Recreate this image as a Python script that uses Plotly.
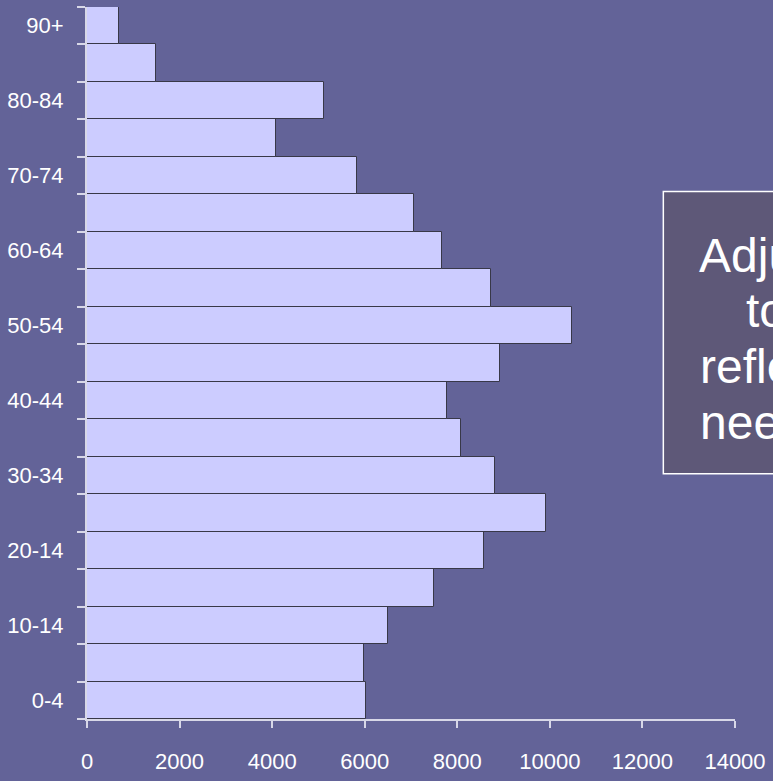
import plotly.graph_objects as go

# ---------------- data ----------------
age_groups = ["0-4", "5-9", "10-14", "15-19", "20-24", "25-29", "30-34", "35-39",
              "40-44", "45-49", "50-54", "55-59", "60-64", "65-69", "70-74",
              "75-79", "80-84", "85-89", "90+"]
population = [6020, 5990, 6500, 7500, 8570, 9920, 8810, 8090, 7770, 8930,
              10470, 8730, 7660, 7060, 5840, 4090, 5120, 1480, 690]
# labels shown on every other category (as in the original, incl. "20-14")
y_tick_labels = ["0-4", "10-14", "20-14", "30-34", "40-44", "50-54",
                 "60-64", "70-74", "80-84", "90+"]
x_tick_values = [0, 2000, 4000, 6000, 8000, 10000, 12000, 14000]
note_lines = ["Adjust", "to", "reflect", "needs"]

# ---------------- style ----------------
BG = "#636398"
BAR = "#CCCCFF"
BAR_EDGE = "#383848"
AXIS = "#D8D8E8"
BOX_FILL = "#5E5878"
FONT = "Liberation Sans, Arial, sans-serif"

W, H = 773, 781
ML, MR, MT, MB = 87, 35, 7, 45
PW, PH = W - ML - MR, H - MT - MB

def px_x(p):
    return (p - ML) / PW

def px_y(p):
    return (H - MB - p) / PH

n = len(age_groups)
ypos = list(range(n))

fig = go.Figure(go.Bar(
    x=population,
    y=ypos,
    orientation="h",
    width=1,
    customdata=age_groups,
    hovertemplate="%{customdata}: %{x}<extra></extra>",
    marker=dict(color=BAR, line=dict(color=BAR_EDGE, width=1)),
))

fig.update_layout(
    width=W, height=H,
    margin=dict(l=ML, r=MR, t=MT, b=MB, pad=0),
    paper_bgcolor=BG, plot_bgcolor=BG,
    showlegend=False,
    font=dict(family=FONT, color="white", size=22),
    bargap=0,
)

fig.update_xaxes(
    range=[0, 14000],
    tickmode="array", tickvals=x_tick_values,
    ticktext=[str(v) for v in x_tick_values],
    ticks="outside", ticklen=7, tickwidth=1.5, tickcolor=AXIS,
    showline=True, linecolor=AXIS, linewidth=2,
    showgrid=False, zeroline=False,
    tickfont=dict(size=22, color="white"),
    ticklabelstandoff=15,
)

fig.update_yaxes(
    range=[-0.5, n - 0.5],
    tickmode="array", tickvals=ypos[::2], ticktext=y_tick_labels,
    ticks="",
    minor=dict(tickmode="array", tickvals=[k - 0.5 for k in range(n + 1)],
               ticks="outside", ticklen=8, tickwidth=1.5, tickcolor=AXIS,
               showgrid=False),
    showline=True, linecolor=AXIS, linewidth=2,
    showgrid=False, zeroline=False,
    tickfont=dict(size=22, color="white"),
    ticklabelstandoff=17,
)

# text box (cut off at the right edge as in the original)
fig.add_shape(type="rect", xref="paper", yref="paper",
              x0=px_x(666), x1=px_x(900), y0=px_y(485), y1=px_y(196),
              fillcolor=BOX_FILL, line=dict(color="white", width=1.5),
              layer="above")

first_center, step = 261, 57
for i, line in enumerate(note_lines):
    fig.add_annotation(x=px_x(769), y=px_y(first_center + i * step),
                       xref="paper", yref="paper", text=line, showarrow=False,
                       xanchor="center", yanchor="middle",
                       font=dict(size=48, color="white", family=FONT))

fig.write_html("out.html")
